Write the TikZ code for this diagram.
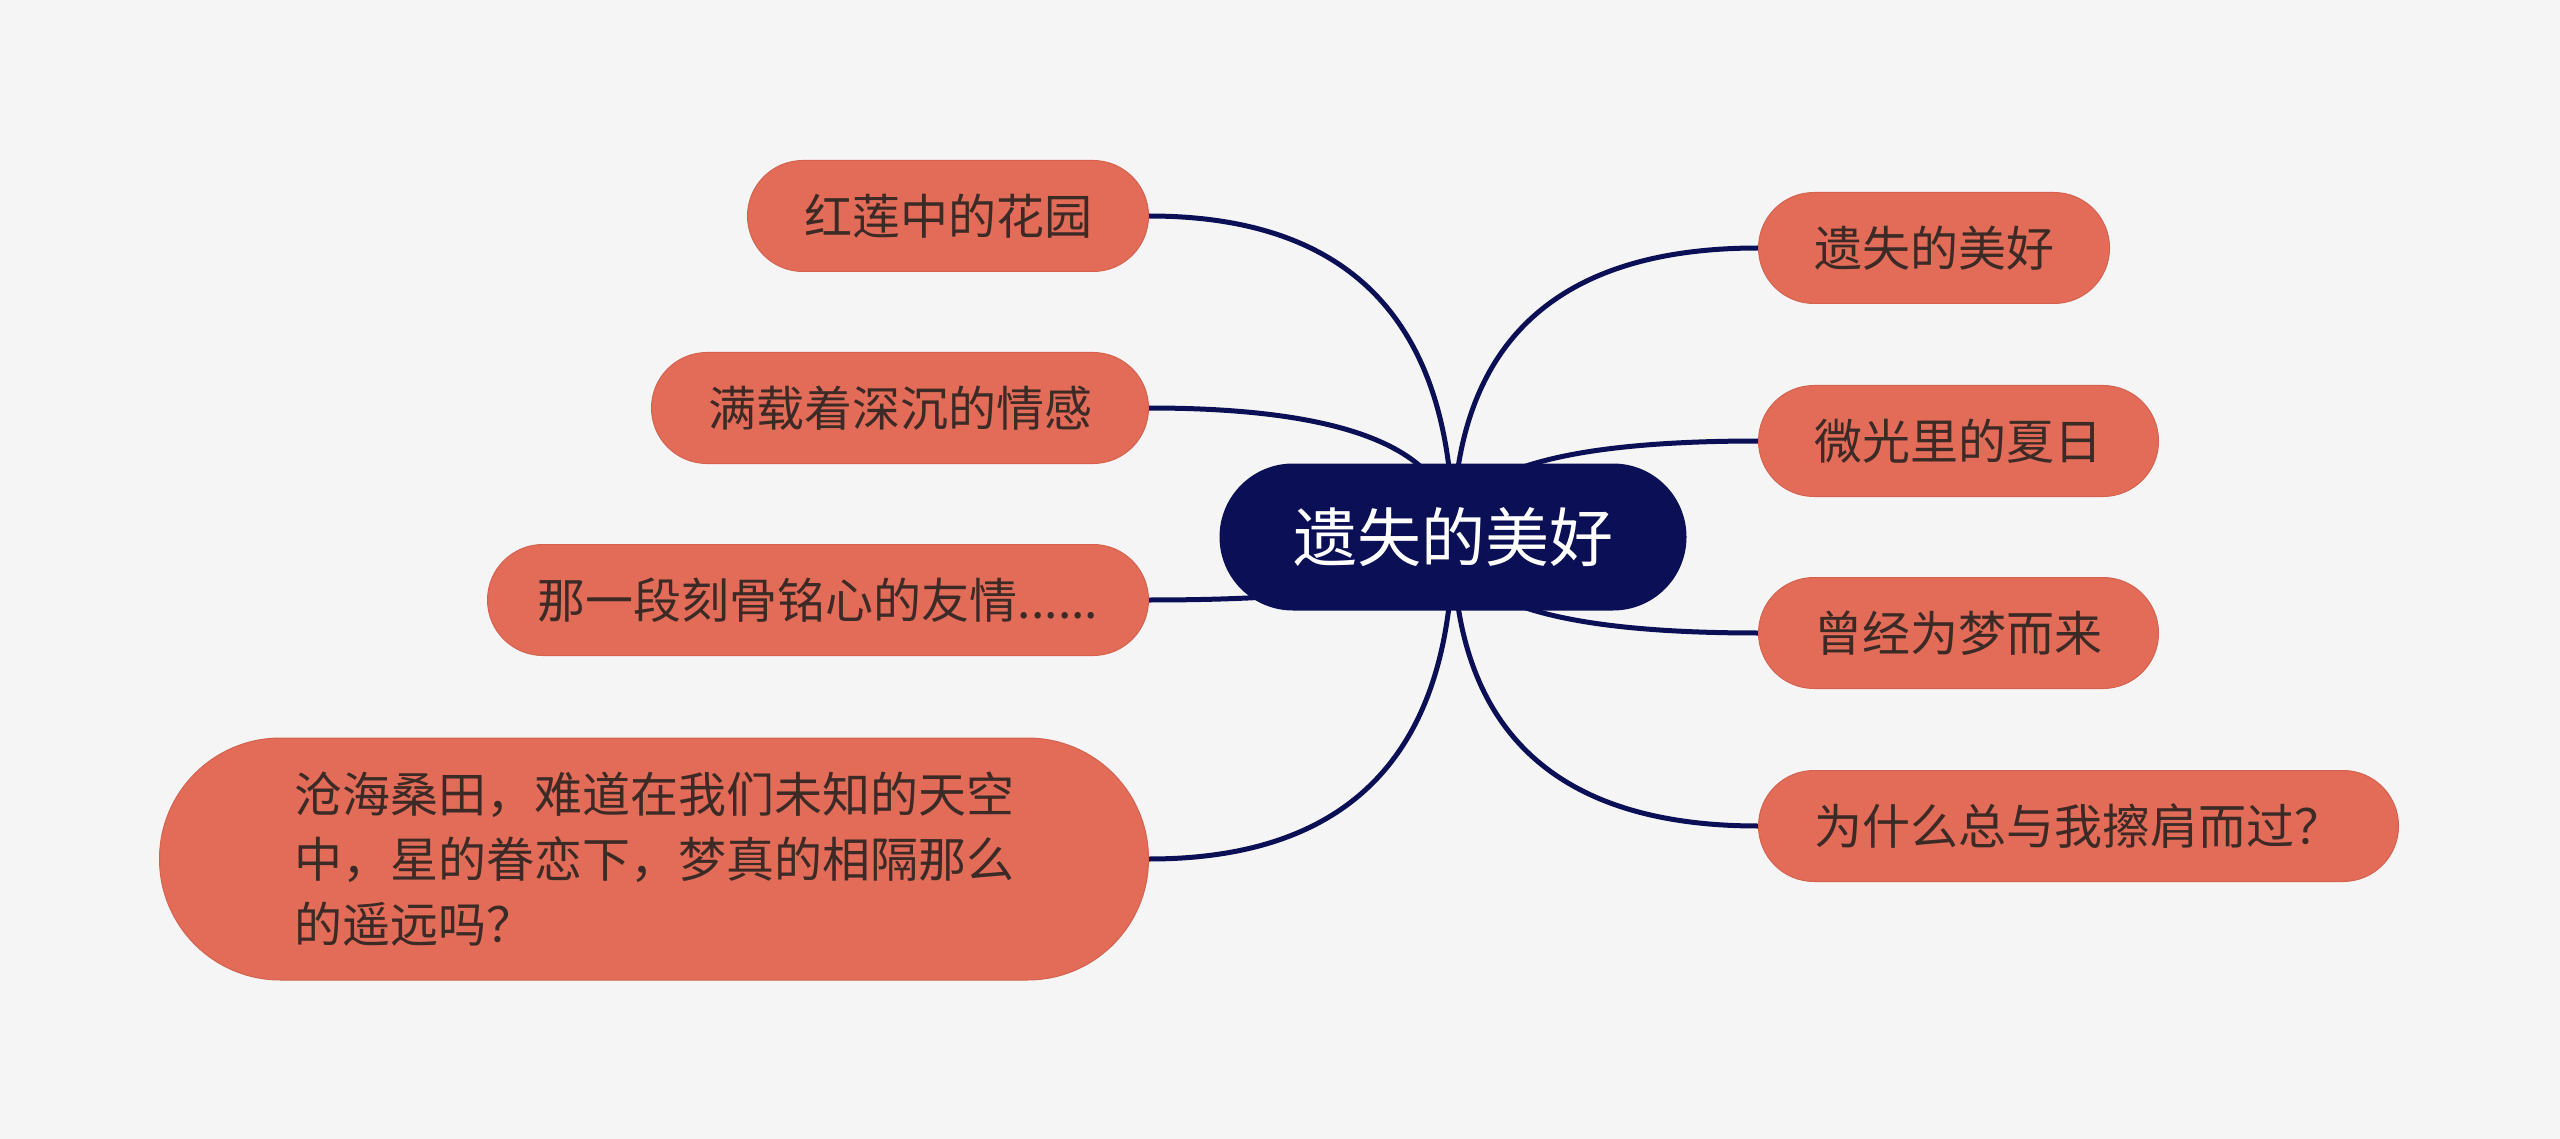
\documentclass[tikz,border=0pt]{standalone}
\usepackage{fontspec}
\newfontfamily\cjk{Noto Sans CJK SC}
\usetikzlibrary{calc,backgrounds,shapes.misc}
\definecolor{bgc}{HTML}{F5F5F5}
\definecolor{navy}{HTML}{0B0F55}
\definecolor{leafc}{HTML}{E36C58}
\definecolor{leafb}{HTML}{D3624F}
\definecolor{txtc}{HTML}{3B2A26}
\tikzset{
  leaf/.style={rounded rectangle, fill=leafc, draw=leafb, line width=1pt,
    minimum height=111pt, inner sep=0pt, text=txtc, font=\cjk\fontsize{48}{65}\selectfont},
  bigleaf/.style={leaf, minimum height=242pt},
  root/.style={rounded rectangle, fill=navy, minimum width=467pt,
    minimum height=147pt, inner sep=0pt, text=white, font=\cjk\fontsize{64}{70}\selectfont},
  conn/.style={draw=navy, line width=5pt}
}
\newcommand\branch[2]{\draw[conn] (#1.center) .. controls ($(#1.center)!2/3!(#1.center |- #2)$) and ($(#2)!2/3!(#1.center |- #2)$) .. (#2);}
\begin{document}
\begin{tikzpicture}[x=1pt,y=-1pt]
\begin{pgfonlayer}{background}
\fill[bgc] (0,0) rectangle (2560,1139);
\end{pgfonlayer}
\useasboundingbox (0,0) rectangle (2560,1139);
\node[root] (c) at (1453,537) {遗失的美好};
\node[leaf, anchor=east, minimum width=401pt] (l1) at (1149,216) {红莲中的花园};
\node[leaf, anchor=east, minimum width=497pt] (l2) at (1149,408) {满载着深沉的情感};
\node[leaf, anchor=east, minimum width=661pt] (l3) at (1149,600) {那一段刻骨铭心的友情......};
\node[bigleaf, anchor=east, minimum width=989pt] (l4) at (1149,859)
  {\parbox{720pt}{\raggedright 沧海桑田，难道在我们未知的天空\\中，星的眷恋下，梦真的相隔那么\\的遥远吗？}};
\node[leaf, anchor=west, minimum width=351pt] (r1) at (1758,248) {遗失的美好};
\node[leaf, anchor=west, minimum width=400pt] (r2) at (1758,441) {微光里的夏日};
\node[leaf, anchor=west, minimum width=400pt] (r3) at (1758,633) {曾经为梦而来};
\node[leaf, anchor=west, minimum width=640pt] (r4) at (1758,826) {为什么总与我擦肩而过？};
\begin{pgfonlayer}{background}
\branch{c}{l1.east}
\branch{c}{l2.east}
\branch{c}{l3.east}
\branch{c}{l4.east}
\branch{c}{r1.west}
\branch{c}{r2.west}
\branch{c}{r3.west}
\branch{c}{r4.west}
\end{pgfonlayer}
\end{tikzpicture}
\end{document}
